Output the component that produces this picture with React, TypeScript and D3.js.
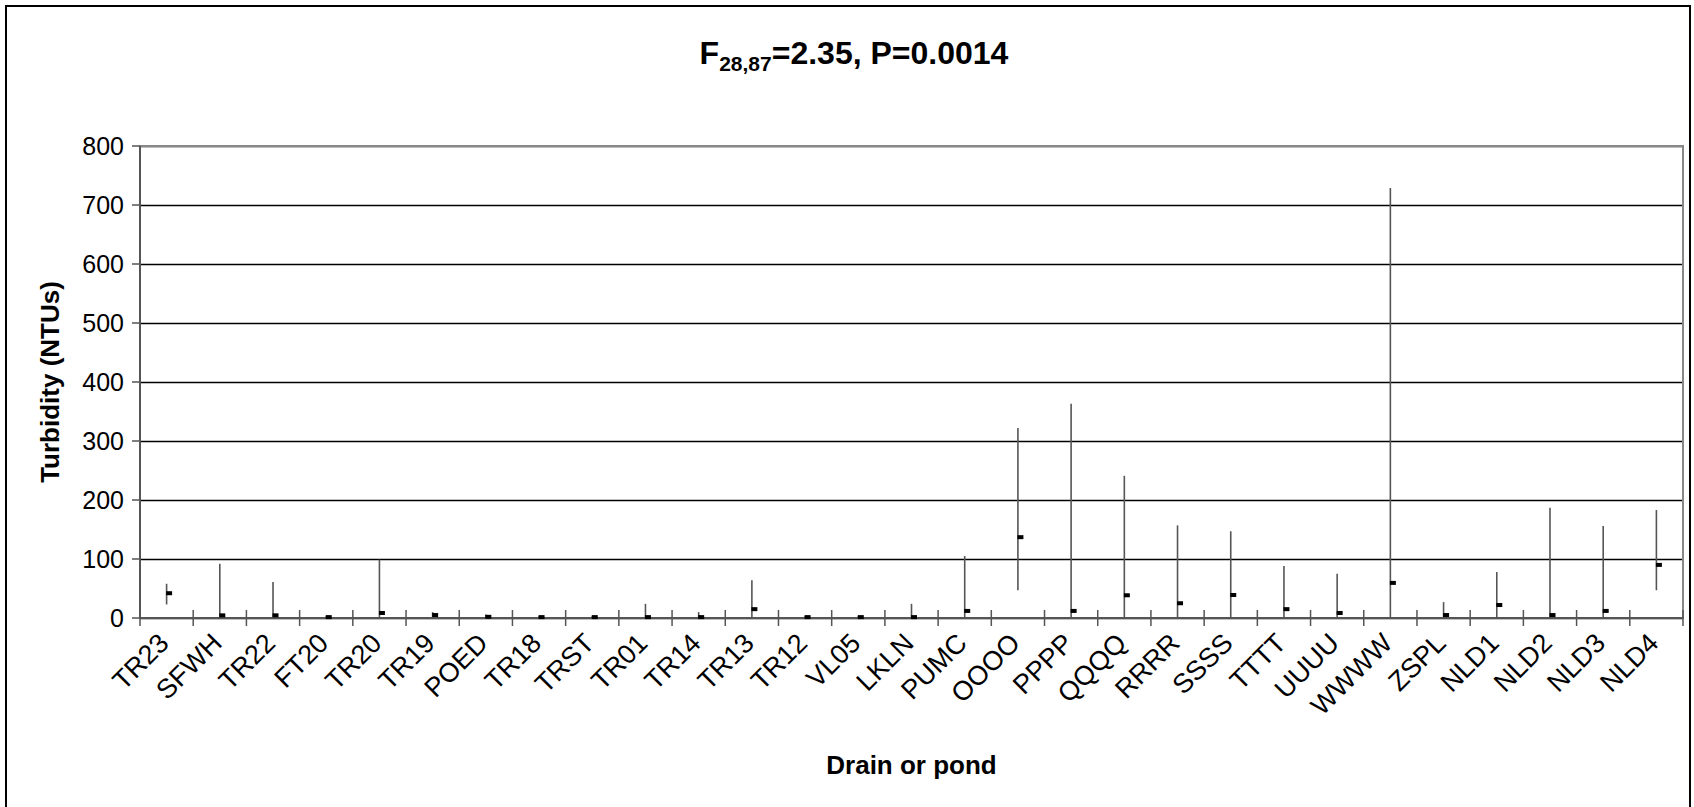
import React from "react";
import * as d3 from "d3";

// Sampling sites (drains and ponds) in plotting order
const sites = [
  "TR23", "SFWH", "TR22", "FT20", "TR20", "TR19", "POED", "TR18", "TRST", "TR01",
  "TR14", "TR13", "TR12", "VL05", "LKLN", "PUMC", "OOOO", "PPPP", "QQQQ", "RRRR",
  "SSSS", "TTTT", "UUUU", "WWWW", "ZSPL", "NLD1", "NLD2", "NLD3", "NLD4",
];

// Turbidity (NTUs): maximum, minimum and mean per site
const highs = [58, 92, 61, 3, 99, 10, 6, 3, 3, 24, 10, 64, 3, 3, 24, 105, 322, 363, 241, 157, 147, 88, 75, 729, 27, 78, 187, 156, 183];
const lows = [23, 0, 0, 0, 0, 0, 0, 0, 0, 0, 0, 0, 0, 0, 0, 0, 47, 0, 0, 0, 0, 0, 0, 0, 0, 0, 0, 0, 47];
const means = [42, 4.5, 4.5, 1.5, 8.5, 5, 2, 1.5, 1.5, 1.5, 1.5, 15, 1.5, 1.5, 1.5, 12, 137, 12, 38.5, 25, 39, 15, 8.5, 59.5, 5, 22, 5, 12, 90];

const yTicks = [0, 100, 200, 300, 400, 500, 600, 700, 800];

const W = 1694;
const H = 807;
const plot = { left: 140, right: 1683, top: 146, bottom: 618 };
const FONT = "'Liberation Sans', Arial, Helvetica, sans-serif";

export default function App() {
  const x = d3
    .scaleBand<string>()
    .domain(sites)
    .range([plot.left, plot.right])
    .paddingInner(0)
    .paddingOuter(0);
  const y = d3.scaleLinear().domain([0, 800]).range([plot.bottom, plot.top]);
  const bw = x.bandwidth();
  const cx = (s: string) => (x(s) as number) + bw / 2;

  const boundaries = d3.range(sites.length + 1).map((i) => plot.left + i * bw);
  const labelSize = 27;

  return (
    <svg
      width={W}
      height={H}
      viewBox={`0 0 ${W} ${H}`}
      style={{ position: "fixed", left: 0, top: 0, background: "#fff" }}
      fontFamily={FONT}
    >
      {/* chart frame */}
      <rect x={6} y={6} width={1684} height={H + 20} fill="#fff" stroke="#000" strokeWidth={2} />

      {/* title */}
      <text x={854} y={64} textAnchor="middle" fontSize={32} fontWeight="bold" fill="#000">
        F<tspan fontSize={21} dy={7}>28,87</tspan>
        <tspan dy={-7}>=2.35, P=0.0014</tspan>
      </text>

      {/* horizontal gridlines */}
      {yTicks.map((t) => (
        <line
          key={`g${t}`}
          x1={plot.left}
          x2={plot.right}
          y1={Math.round(y(t)) + 0.5}
          y2={Math.round(y(t)) + 0.5}
          stroke="#000"
          strokeWidth={1.3}
        />
      ))}

      {/* plot area border */}
      <rect
        x={plot.left}
        y={plot.top}
        width={plot.right - plot.left}
        height={plot.bottom - plot.top}
        fill="none"
        stroke="#888"
        strokeWidth={2}
      />

      {/* y axis ticks and labels */}
      {yTicks.map((t) => (
        <g key={`y${t}`}>
          <line x1={plot.left - 8} x2={plot.left} y1={y(t)} y2={y(t)} stroke="#555" strokeWidth={1.5} />
          <text x={124} y={y(t)} dy="0.36em" textAnchor="end" fontSize={25} fill="#000">
            {t}
          </text>
        </g>
      ))}

      {/* category boundary ticks across the x axis */}
      {boundaries.map((bx, i) => (
        <line key={`t${i}`} x1={bx} x2={bx} y1={plot.bottom - 8} y2={plot.bottom + 8} stroke="#555" strokeWidth={1.5} />
      ))}

      {/* axis lines */}
      <line x1={plot.left} x2={plot.right} y1={plot.bottom} y2={plot.bottom} stroke="#555" strokeWidth={2} />
      <line x1={plot.left} x2={plot.left} y1={plot.top} y2={plot.bottom} stroke="#555" strokeWidth={2} />

      {/* high-low ranges */}
      {sites.map((s, i) => (
        <line
          key={`hl${s}`}
          x1={cx(s)}
          x2={cx(s)}
          y1={y(highs[i])}
          y2={y(lows[i])}
          stroke="#555"
          strokeWidth={1.6}
        />
      ))}

      {/* mean markers */}
      {sites.map((s, i) => (
        <rect key={`m${s}`} x={cx(s) - 0.5} y={y(means[i]) - 2} width={6} height={4} fill="#000" />
      ))}

      {/* x category labels */}
      {sites.map((s) => (
        <text
          key={`xl${s}`}
          transform={`translate(${cx(s) - 10},${plot.bottom + 13}) rotate(-45)`}
          dy="0.72em"
          textAnchor="end"
          fontSize={labelSize}
          fill="#000"
        >
          {s}
        </text>
      ))}

      {/* axis titles */}
      <text
        transform={`translate(50,${(plot.top + plot.bottom) / 2}) rotate(-90)`}
        dy="0.36em"
        textAnchor="middle"
        fontSize={26}
        fontWeight="bold"
        fill="#000"
      >
        Turbidity (NTUs)
      </text>
      <text x={(plot.left + plot.right) / 2} y={774} textAnchor="middle" fontSize={26} fontWeight="bold" fill="#000">
        Drain or pond
      </text>
    </svg>
  );
}
